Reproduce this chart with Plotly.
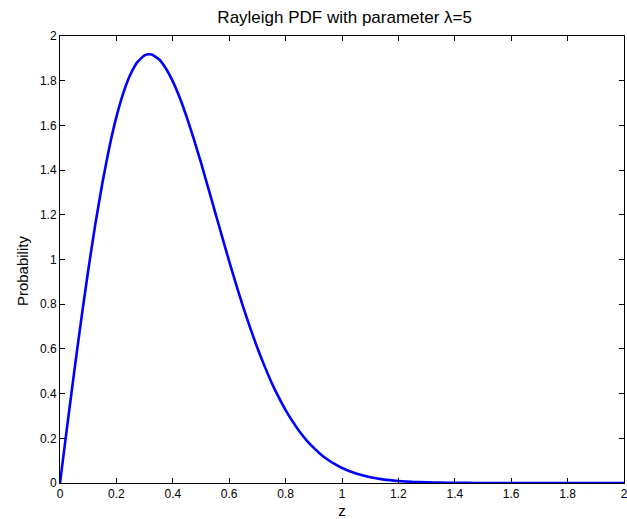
import plotly.graph_objects as go

# Rayleigh PDF samples (lambda = 5)
z_vals = [0, 0.025, 0.05, 0.075, 0.1, 0.125, 0.15, 0.175, 0.2, 0.225, 0.25,
          0.275, 0.3, 0.3125, 0.325, 0.35, 0.375, 0.4, 0.425, 0.45, 0.475,
          0.5, 0.525, 0.55, 0.575, 0.6, 0.625, 0.65, 0.675, 0.7, 0.725,
          0.75, 0.775, 0.8, 0.825, 0.85, 0.875, 0.9, 0.925, 0.95, 0.975,
          1.0, 1.05, 1.1, 1.15, 1.2, 1.25, 1.3, 1.35, 1.4, 1.45, 1.5,
          1.6, 1.7, 1.8, 1.9, 2.0]
pdf_vals = [0, 0.249, 0.494, 0.729, 0.951, 1.156, 1.340, 1.502, 1.638, 1.747,
            1.829, 1.884, 1.913, 1.918, 1.917, 1.897, 1.856, 1.797, 1.723,
            1.635, 1.537, 1.433, 1.323, 1.212, 1.101, 0.992, 0.887, 0.786,
            0.692, 0.604, 0.524, 0.450, 0.385, 0.326, 0.275, 0.229, 0.190,
            0.157, 0.128, 0.104, 0.084, 0.067, 0.042, 0.026, 0.015, 0.009,
            0.005, 0.003, 0.0015, 0.0008, 0.0004, 0.0002, 0, 0, 0, 0, 0]

x_ticks = [0, 0.2, 0.4, 0.6, 0.8, 1, 1.2, 1.4, 1.6, 1.8, 2]
x_ticklabels = ["0", "0.2", "0.4", "0.6", "0.8", "1", "1.2", "1.4", "1.6", "1.8", "2"]
y_ticks = [0, 0.2, 0.4, 0.6, 0.8, 1, 1.2, 1.4, 1.6, 1.8, 2]
y_ticklabels = ["0", "0.2", "0.4", "0.6", "0.8", "1", "1.2", "1.4", "1.6", "1.8", "2"]

FONT = "Liberation Sans, Arial, Helvetica, sans-serif"

fig = go.Figure()
fig.add_trace(go.Scatter(
    x=z_vals, y=pdf_vals, mode="lines",
    line=dict(color="#0000FF", width=2.6, shape="spline", smoothing=0.5),
    cliponaxis=False, showlegend=False, hoverinfo="skip",
))

axis_common = dict(
    showgrid=False, zeroline=False, showline=True, linecolor="black",
    linewidth=1, mirror="ticks", ticks="inside", ticklen=5,
    tickcolor="black", tickwidth=1, ticklabeloverflow="allow",
    tickfont=dict(family=FONT, size=12, color="black"),
)

fig.update_layout(
    width=629, height=519,
    margin=dict(l=60, r=1, t=36, b=34),
    paper_bgcolor="white", plot_bgcolor="white",
    font=dict(family=FONT, color="black"),
    title=dict(text="Rayleigh PDF with parameter λ=5", x=0.548, xanchor="center",
               y=0.967, yanchor="middle", font=dict(family=FONT, size=17)),
    xaxis=dict(range=[0, 2], tickvals=x_ticks, ticktext=x_ticklabels,
               title=dict(text="z", font=dict(family=FONT, size=15), standoff=6),
               **axis_common),
    yaxis=dict(range=[0, 2], tickvals=y_ticks, ticktext=y_ticklabels,
               **axis_common),
    annotations=[dict(
        text="Probability", textangle=-90, showarrow=False,
        xref="paper", yref="paper", x=0, y=0.474, xshift=-38,
        xanchor="center", yanchor="middle",
        font=dict(family=FONT, size=15, color="black"),
    )],
)

fig.write_html("out.html", post_script="document.body.style.overflow='hidden';")
